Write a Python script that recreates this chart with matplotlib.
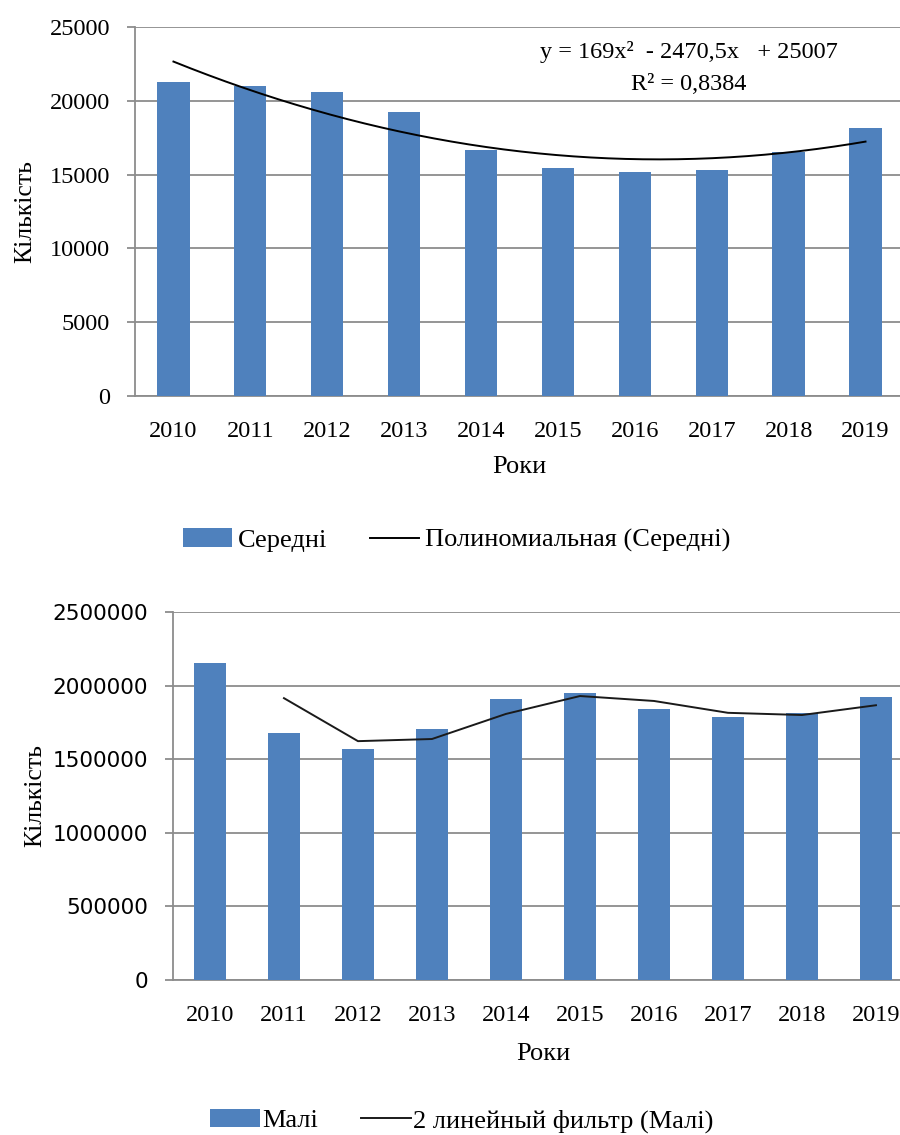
import matplotlib
matplotlib.use("Agg")
import matplotlib.pyplot as plt
import numpy as np

years = ["2010", "2011", "2012", "2013", "2014", "2015", "2016", "2017", "2018", "2019"]
seredni_vals = [21300, 21000, 20600, 19250, 16700, 15450, 15200, 15300, 16550, 18150]
mali_vals = [2152000, 1677000, 1568000, 1706000, 1909000, 1949000, 1842000, 1788000, 1812000, 1921000]

eq_text = "y = 169x²  - 2470,5x   + 25007"
r2_text = "R² = 0,8384"

bar_color = "#4F81BD"
grid_color = "#8c8c8c"
serif = ["Liberation Serif", "DejaVu Serif"]

fig = plt.figure(figsize=(9, 11.35), dpi=100)

x = np.arange(len(years))

# ---- top chart: Середні + polynomial trend
ax1 = fig.add_axes([0.15, 0.6511, 0.8544, 0.3251])
b1 = ax1.bar(x, seredni_vals, width=0.42, color=bar_color, zorder=3)
coef = np.polyfit(x + 1, seredni_vals, 2)
xs = np.linspace(0, len(years) - 1, 200)
l1, = ax1.plot(xs, np.polyval(coef, xs + 1), color="black", lw=1.4, zorder=4)
ax1.set_xlim(-0.5, len(years) - 0.5)
ax1.set_ylim(0, 25000)
ax1.set_yticks(np.arange(0, 25001, 5000))
ax1.set_xticks(x)
ax1.set_xticklabels(years)
ax1.text(0.72, 0.933, eq_text, transform=ax1.transAxes, ha="center", va="center",
         fontsize=17.5, family=serif)
ax1.text(0.72, 0.843, r2_text, transform=ax1.transAxes, ha="center", va="center",
         fontsize=17.5, family=serif)
ax1.set_ylabel("Кількість", fontsize=18.5, family=serif)
ax1.yaxis.set_label_coords(-0.129, 0.5)
ax1.set_xlabel("Роки", fontsize=19, family=serif, labelpad=10)
for lab in ax1.get_yticklabels() + ax1.get_xticklabels():
    lab.set_family(serif)
    lab.set_fontsize(17.5)

# ---- bottom chart: Малі + 2-period moving average
ax2 = fig.add_axes([0.1922, 0.1366, 0.8222, 0.3242])
b2 = ax2.bar(x, mali_vals, width=0.42, color=bar_color, zorder=3)
mali = np.array(mali_vals, dtype=float)
ma = (mali[1:] + mali[:-1]) / 2
l2, = ax2.plot(x[1:], ma, color="#1a1a1a", lw=1.4, zorder=4)
ax2.set_xlim(-0.5, len(years) - 0.5)
ax2.set_ylim(0, 2500000)
ax2.set_yticks(np.arange(0, 2500001, 500000))
ax2.set_yticklabels([str(v) for v in range(0, 2500001, 500000)])
ax2.set_xticks(x)
ax2.set_xticklabels(years)
ax2.set_ylabel("Кількість", fontsize=18.5, family=serif)
ax2.yaxis.set_label_coords(-0.171, 0.5)
ax2.set_xlabel("Роки", fontsize=19, family=serif, labelpad=12)
for lab in ax2.get_xticklabels():
    lab.set_family(serif)
    lab.set_fontsize(17.5)
for lab in ax2.get_yticklabels():
    lab.set_family("DejaVu Sans")
    lab.set_fontsize(15.5)

for ax in (ax1, ax2):
    ax.grid(axis="y", color=grid_color, lw=1.3, zorder=0)
    ax.spines["top"].set_visible(False)
    ax.spines["right"].set_visible(False)
    ax.spines["left"].set_color(grid_color)
    ax.spines["bottom"].set_color(grid_color)
    ax.spines["left"].set_linewidth(1.3)
    ax.spines["bottom"].set_linewidth(1.3)
    ax.tick_params(axis="y", length=6, width=1.3, color=grid_color, pad=12)
    ax.tick_params(axis="x", length=0, pad=18)

fig.legend([b1, l1], ["Середні", "Полиномиальная (Середні)"], loc="center left",
           bbox_to_anchor=(0.203, 0.524), ncol=2, frameon=False,
           prop={"family": serif, "size": 19}, borderaxespad=0, borderpad=0,
           handlelength=1.85, handletextpad=0.25, columnspacing=1.6)
fig.legend([b2, l2], ["Малі", "2 линейный фильтр (Малі)"], loc="center left",
           bbox_to_anchor=(0.233, 0.0125), ncol=2, frameon=False,
           prop={"family": serif, "size": 19}, borderaxespad=0, borderpad=0,
           handlelength=1.9, handletextpad=0.1, columnspacing=1.6)

fig.savefig("out.png", dpi=100)
